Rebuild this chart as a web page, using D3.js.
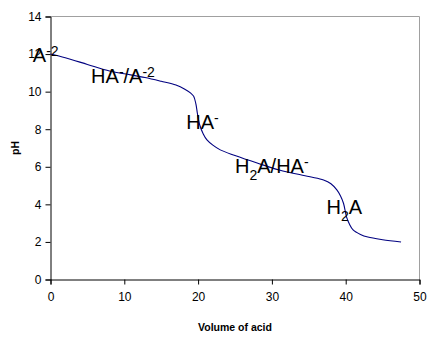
<!DOCTYPE html>
<html><head><meta charset="utf-8">
<script src="https://cdn.jsdelivr.net/npm/d3@7"></script>
<style>body{margin:0;background:#fff}svg{display:block}text{font-family:"Liberation Sans",Arial,sans-serif}</style>
</head><body>
<svg id="c" width="429" height="337"></svg>
<script>
const volume = [0, 2, 5, 8, 10, 12.8, 15, 17, 18.2, 19, 19.4, 19.7, 19.9, 20.2, 20.7, 21.2, 22, 23, 25, 28, 31, 35, 37, 38, 38.8, 39.3, 39.7, 40.1, 40.5, 41, 42, 43, 45, 47.5];
const pH     = [12.0, 11.8, 11.45, 11.1, 10.95, 10.75, 10.55, 10.35, 10.13, 9.92, 9.75, 9.35, 8.85, 8.25, 7.75, 7.43, 7.15, 6.9, 6.6, 6.2, 5.83, 5.48, 5.3, 5.1, 4.77, 4.45, 4.06, 3.35, 2.95, 2.64, 2.4, 2.26, 2.12, 2.0];
const xTicks = [0, 10, 20, 30, 40, 50];
const yTicks = [0, 2, 4, 6, 8, 10, 12, 14];
const labels = [
  {v: -2.4, p: 11.6, parts: [["A","n"],["-2","sup"]]},
  {v: 5.5, p: 10.45, parts: [["HA","n"],["-","sup"],["/A","n"],["-2","sup"]]},
  {v: 18.4, p: 8.0, parts: [["HA","n"],["-","sup"]]},
  {v: 25.0, p: 5.65, parts: [["H","n"],["2","sub"],["A/HA","n"],["-","sup"]]},
  {v: 37.4, p: 3.48, parts: [["H","n"],["2","sub"],["A","n"]]}
];

const svg = d3.select("#c");
const x = d3.scaleLinear().domain([0, 50]).range([50.5, 419.5]);
const y = d3.scaleLinear().domain([0, 14]).range([279.5, 16.5]);

svg.append("path").attr("d", `M${x(0)},${y(14)}H${x(50)}V${y(0)}`).attr("fill","none").attr("stroke","#a0a0a0").attr("stroke-width",1);

const gx = svg.append("g").attr("transform", `translate(0,${y(0)})`)
  .call(d3.axisBottom(x).tickValues(xTicks).tickSize(5).tickPadding(8).tickFormat(d3.format("d")));
const gy = svg.append("g").attr("transform", `translate(${x(0)},0)`)
  .call(d3.axisLeft(y).tickValues(yTicks).tickSize(5).tickPadding(4).tickFormat(d3.format("d")));
[gx, gy].forEach(g => {
  g.select(".domain").attr("stroke","#000");
  g.selectAll(".tick line").attr("stroke","#000");
  g.selectAll(".tick text").attr("fill","#000").style("font-size","12px").style("font-family","'Liberation Sans',Arial,sans-serif");
});

const data = volume.map((v,i)=>[v,pH[i]]);
svg.append("path").datum(data)
  .attr("d", d3.line().x(d=>x(d[0])).y(d=>y(d[1])).curve(d3.curveCatmullRom.alpha(0.5)))
  .attr("fill","none").attr("stroke","#000080").attr("stroke-width",1.1);

labels.forEach(l => {
  const t = svg.append("text").attr("x", x(l.v)).attr("y", y(l.p)).style("font-size","20px").attr("fill","#000");
  let shift = 0;
  l.parts.forEach(([s, m]) => {
    const target = m === "sup" ? -6 : m === "sub" ? 6.5 : 0;
    t.append("tspan").attr("dy", target - shift).style("font-size", m === "n" ? "20px" : "14px").text(s);
    shift = target;
  });
});

svg.append("text").attr("transform", `translate(19,${(y(0)+y(14))/2}) rotate(-90)`)
  .attr("text-anchor","middle").style("font-size","10.5px").style("font-weight","bold").text("pH");
svg.append("text").attr("x", (x(0)+x(50))/2).attr("y", 331)
  .attr("text-anchor","middle").style("font-size","10.5px").style("font-weight","bold").text("Volume of acid");
</script>
</body></html>
